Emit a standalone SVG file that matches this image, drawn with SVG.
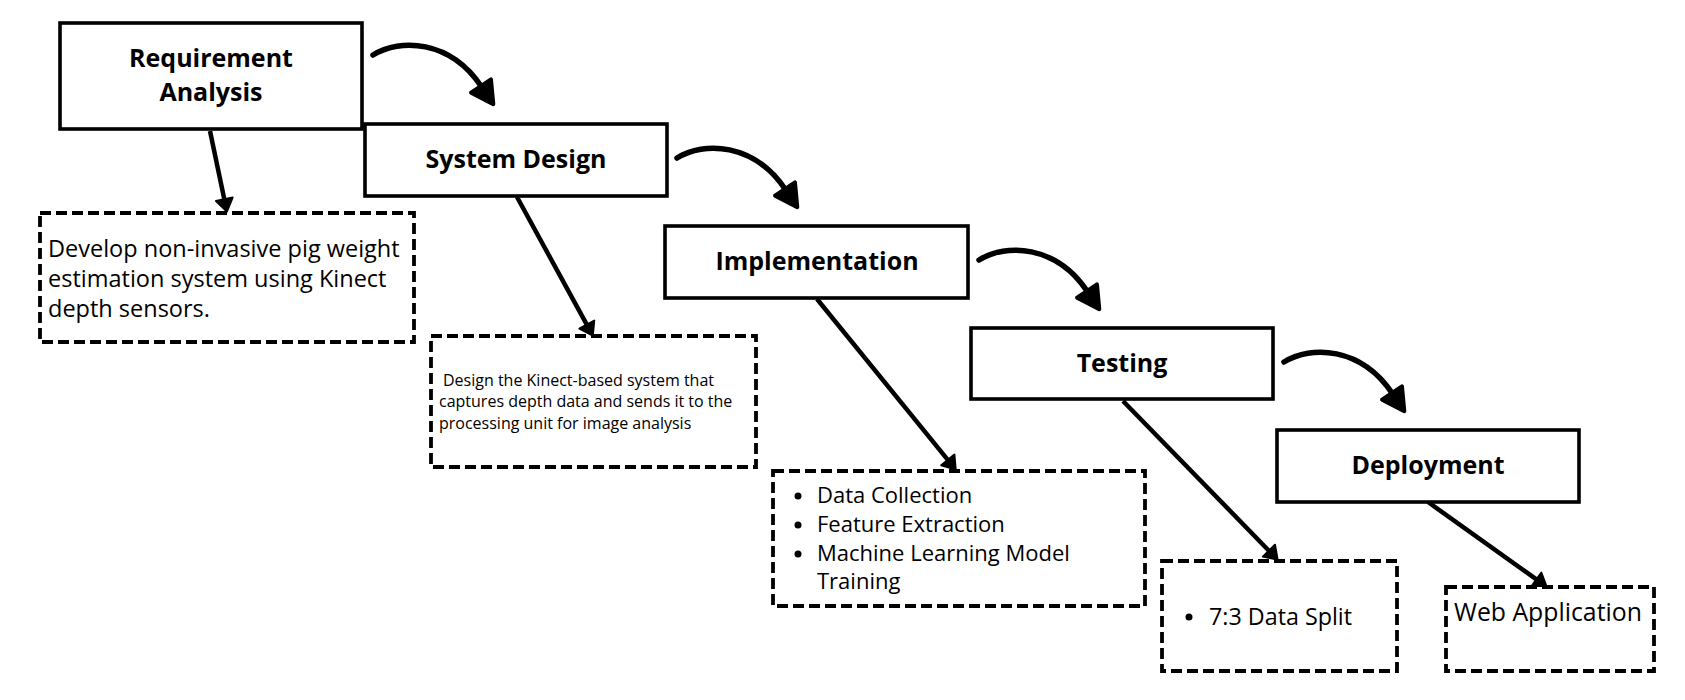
<svg xmlns="http://www.w3.org/2000/svg" width="1685" height="700" viewBox="0 0 1685 700">
  <defs>
    <style>
      .stage { fill: #ffffff; stroke: #000000; stroke-width: 3.6; }
      .note { fill: #ffffff; stroke: #000000; stroke-width: 3.8; stroke-dasharray: 11 5; }
      .title { font-family: "Open Sans", "Noto Sans", sans-serif; font-weight: 700; font-size: 25px; fill: #000000; text-anchor: middle; }
      .body { font-family: "Open Sans", "Noto Sans", sans-serif; font-weight: 400; fill: #000000; }
      .curve { fill: none; stroke: #000000; stroke-width: 5.5; stroke-linecap: round; marker-end: url(#bigHead); }
      .link { fill: none; stroke: #000000; stroke-width: 4.5; marker-end: url(#smallHead); }
    </style>
    <marker id="bigHead" markerUnits="userSpaceOnUse" viewBox="-4 -17 34 34" markerWidth="34" markerHeight="34" refX="0" refY="0" orient="auto">
      <path d="M0,-12 L22,0 L0,12 Z" fill="#000000" stroke="#000000" stroke-width="4" stroke-linejoin="round"/>
    </marker>
    <marker id="smallHead" markerUnits="userSpaceOnUse" viewBox="-3 -12 20 24" markerWidth="20" markerHeight="24" refX="0" refY="0" orient="auto">
      <path d="M0,-8.5 L12.5,0 L0,8.5 Z" fill="#000000" stroke="#000000" stroke-width="2" stroke-linejoin="round"/>
    </marker>
  </defs>

  <rect width="1685" height="700" fill="#ffffff"/>

  <g id="connectors">
    <path class="curve" d="M373,55 C400,38 450,40 481,86"/>
    <path class="curve" d="M677,158 C704,141 754,143 785,189"/>
    <path class="curve" d="M979,260 C1006,243 1056,245 1087,291"/>
    <path class="curve" d="M1284,362 C1311,345 1361,347 1392,393"/>
    <line class="link" x1="210" y1="131" x2="224.3" y2="199.3"/>
    <line class="link" x1="517" y1="197" x2="586.8" y2="324.6"/>
    <line class="link" x1="817" y1="299" x2="947.8" y2="459.9"/>
    <line class="link" x1="1123" y1="401" x2="1268.9" y2="550.7"/>
    <line class="link" x1="1428" y1="502" x2="1536.4" y2="579.4"/>
  </g>

  <g id="requirement-analysis">
    <rect class="stage" x="60" y="23" width="302" height="106"/>
    <text class="title" x="211" y="67">Requirement</text>
    <text class="title" x="211" y="101">Analysis</text>
  </g>
  <g id="system-design">
    <rect class="stage" x="365" y="124" width="302" height="72"/>
    <text class="title" x="516" y="168">System Design</text>
  </g>
  <g id="implementation">
    <rect class="stage" x="665" y="226" width="303" height="72"/>
    <text class="title" x="817" y="270">Implementation</text>
  </g>
  <g id="testing">
    <rect class="stage" x="971" y="328" width="302" height="71"/>
    <text class="title" x="1122" y="372">Testing</text>
  </g>
  <g id="deployment">
    <rect class="stage" x="1277" y="430" width="302" height="72"/>
    <text class="title" x="1428" y="474">Deployment</text>
  </g>

  <g id="note-requirement">
    <rect class="note" x="40" y="213" width="374" height="129"/>
    <text class="body" font-size="23.5">
      <tspan x="48" y="257">Develop non-invasive pig weight</tspan>
      <tspan x="48" y="287">estimation system using Kinect</tspan>
      <tspan x="48" y="317">depth sensors.</tspan>
    </text>
  </g>
  <g id="note-design">
    <rect class="note" x="431" y="336" width="325" height="131"/>
    <text class="body" font-size="16">
      <tspan x="443" y="386">Design the Kinect-based system that</tspan>
      <tspan x="439" y="407">captures depth data and sends it to the</tspan>
      <tspan x="439" y="429">processing unit for image analysis</tspan>
    </text>
  </g>
  <g id="note-implementation">
    <rect class="note" x="773" y="471" width="372" height="135"/>
    <circle cx="798" cy="496" r="3.5"/>
    <circle cx="798" cy="525" r="3.5"/>
    <circle cx="798" cy="554" r="3.5"/>
    <text class="body" font-size="22">
      <tspan x="817" y="503">Data Collection</tspan>
      <tspan x="817" y="532">Feature Extraction</tspan>
      <tspan x="817" y="561">Machine Learning Model</tspan>
      <tspan x="817" y="589">Training</tspan>
    </text>
  </g>
  <g id="note-testing">
    <rect class="note" x="1162" y="561" width="235" height="110"/>
    <circle cx="1189" cy="617" r="3.5"/>
    <text class="body" font-size="23.3" x="1209" y="625">7:3 Data Split</text>
  </g>
  <g id="note-deployment">
    <rect class="note" x="1446" y="587" width="208" height="84"/>
    <text class="body" font-size="24.8" x="1454" y="621">Web Application</text>
  </g>
</svg>
